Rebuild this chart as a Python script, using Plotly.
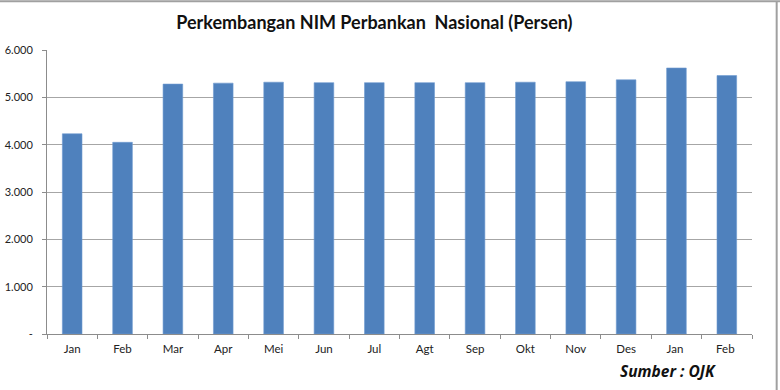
import plotly.graph_objects as go

months = ["Jan", "Feb", "Mar", "Apr", "Mei", "Jun", "Jul", "Agt", "Sep", "Okt", "Nov", "Des", "Jan ", "Feb "]
nim = [4.23, 4.05, 5.28, 5.30, 5.32, 5.31, 5.31, 5.31, 5.31, 5.32, 5.33, 5.37, 5.62, 5.46]
y_tickvals = [0, 1, 2, 3, 4, 5, 6]
y_ticktext = ["-", "1.000", "2.000", "3.000", "4.000", "5.000", "6.000"]

fig = go.Figure(go.Bar(
    x=months, y=nim,
    marker=dict(color="#4F81BD", line=dict(color="#6E9AD0", width=0.6)),
    hoverinfo="x+y",
))

fig.update_layout(
    width=780, height=390,
    margin=dict(l=47, r=28, t=50, b=56, autoexpand=False),
    paper_bgcolor="white", plot_bgcolor="white",
    bargap=0.61,
    showlegend=False,
    font=dict(family="Lato, Open Sans, sans-serif", color="#222222", size=11),
    title=dict(text="<b>Perkembangan NIM Perbankan&nbsp;&nbsp;Nasional (Persen)</b>",
               x=0.48, xanchor="center", y=0.943, yanchor="middle",
               font=dict(size=18, color="#111111", family="Lato, Open Sans, sans-serif")),
    xaxis=dict(
        showline=True, linecolor="#8c8c8c", linewidth=1,
        ticks="outside", tickson="boundaries", ticklen=4, tickcolor="#8c8c8c",
        showgrid=False, tickfont=dict(size=11.5), automargin=False,
        ticklabelstandoff=4,
    ),
    yaxis=dict(
        range=[0, 6], tickvals=y_tickvals, ticktext=y_ticktext,
        showline=True, linecolor="#8c8c8c", linewidth=1,
        ticks="outside", ticklen=4, tickcolor="#8c8c8c",
        showgrid=True, gridcolor="#a6a6a6", gridwidth=1,
        zeroline=False, tickfont=dict(size=11), automargin=False,
        ticklabelstandoff=7,
    ),
    annotations=[dict(
        text="<b><i>Sumber : OJK</i></b>", xref="paper", yref="paper",
        x=0.881, y=-0.13, xanchor="center", yanchor="middle", showarrow=False,
        font=dict(size=15.5, color="#111111", family="Open Sans, sans-serif"),
    )],
    shapes=[
        dict(type="line", xref="paper", yref="paper", x0=-0.07, x1=1.04, y0=1.172, y1=1.172,
             line=dict(color="#a0a0a0", width=2)),
        dict(type="line", xref="paper", yref="paper", x0=1.035, x1=1.035, y0=1.172, y1=-0.2,
             line=dict(color="#a0a0a0", width=2)),
    ],
)

fig.write_html("out.html", config={"displayModeBar": False},
               post_script="document.body.style.margin='0';document.body.style.padding='0';window.dispatchEvent(new Event('resize'));")
